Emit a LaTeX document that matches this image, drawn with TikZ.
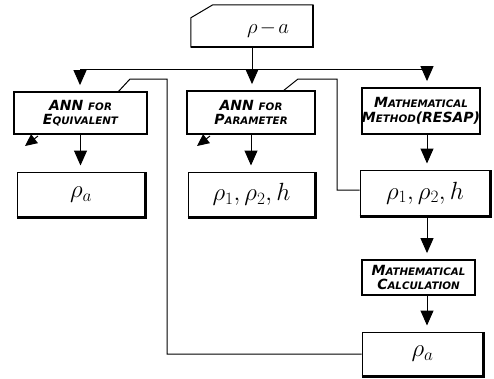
\documentclass[tikz,border=0pt]{standalone}
\usepackage{fontspec}
\usetikzlibrary{arrows.meta}
\newfontfamily\capfont{DejaVu Sans}
% heavy slanted face with hand-made small capitals
\newcommand\capsline{\capfont\bfseries\itshape\fontsize{14}{14.5}\selectfont}
\newcommand\smc[1]{{\fontsize{10.3}{14.5}\selectfont #1}}

\tikzset{
  box/.style={draw, line width=1pt, inner sep=0pt, align=center},
  procbox/.style={box, line width=1.8pt, font=\capsline},
  valbox/.style={box, font=\fontsize{24}{26}\selectfont},
  link/.style={line width=1pt},
  arr/.style={link, -{Triangle[length=15pt,width=13pt]}, shorten >=6pt},
  outarr/.style={link, -{Triangle[length=12pt,width=11pt]}},
}

\begin{document}
\begin{tikzpicture}[x=1pt, y=-1pt]
\useasboundingbox (0,0) rectangle (494,378);

% input block with clipped corner
\node[inner sep=0pt, minimum width=122pt, minimum height=42pt] (T) at (252,26) {};
\draw[line width=1pt] ([xshift=22pt]T.north west) -- (T.north east) -- (T.south east)
  -- (T.south west) -- ([yshift=-13pt]T.north west) -- cycle;
\draw[line width=2pt] (T.south west) -- (T.south east) -- (T.north east);
\node[font=\fontsize{22}{24}\selectfont] (Tl) at (268,29) {$\rho\mkern2mu{-}\mkern2mu a$};

% processing blocks
\node[procbox, minimum width=133pt, minimum height=42pt] (A1) at (80.5,113)
  {ANN \smc{FOR}\\E\smc{QUIVALENT}};
\node[procbox, minimum width=128pt, minimum height=43pt] (A2) at (251,112.5)
  {ANN \smc{FOR}\\P\smc{ARAMETER}};
\node[procbox, minimum width=116pt, minimum height=46pt] (M1) at (421,111)
  {M\smc{ATHEMATICAL}\\M\smc{ETHOD}(RESAP)};
\node[procbox, minimum width=113pt, minimum height=35pt] (C) at (418.5,277.5)
  {M\smc{ATHEMATICAL}\\C\smc{ALCULATION}};

% result blocks
\node[valbox, minimum width=128pt, minimum height=45pt] (R1) at (81,194.5) {$\rho_a$};
\node[valbox, minimum width=127pt, minimum height=45pt] (R2) at (251.5,194.5) {$\rho_1,\rho_2,h$};
\node[valbox, minimum width=130pt, minimum height=46pt] (R3) at (425,193) {$\rho_1,\rho_2,h$};
\node[valbox, minimum width=121pt, minimum height=44pt] (R4) at (422.5,354) {$\rho_a$};

% heavier lower and right edges on the result blocks
\foreach \n in {R1,R2,R3,R4}
  \draw[line width=2.2pt] (\n.south west) -- (\n.south east) -- (\n.north east);

% distribution of the input
\coordinate (jl) at (80,69);
\coordinate (jr) at (427,69);
\draw[link] (jl) -- (jr);
\draw[arr] (T.south) -- (T.south |- A2.north);
\draw[arr] (jl) -- (jl |- A1.north);
\draw[arr] (jr) -- (jr |- M1.north);

% downward flow
\draw[arr] (A1.south) -- (A1.south |- R1.north);
\draw[arr] (A2.south) -- (A2.south |- R2.north);
\draw[arr] (jr |- M1.south) -- (jr |- R3.north);
\draw[arr] (jr |- R3.south) -- (jr |- C.north);
\draw[arr] (jr |- C.south) -- (jr |- R4.north);

% training targets fed back into the networks
\coordinate (e1) at (118,92);
\coordinate (e2) at (130,79);
\draw[link] (R4.west) -| (167,79) -- (e2) -- (e1);
\coordinate (p1) at (283,91);
\coordinate (p2) at (298,79);
\draw[link] (R3.west |- 0,190) -| (337,79) -- (p2) -- (p1);

% outgoing tips below the network blocks
\coordinate (o1) at (38,136);
\coordinate (o2) at (210,136);
\draw[outarr] (o1) -- ++(-13,10);
\draw[outarr] (o2) -- ++(-13,10);
\end{tikzpicture}
\end{document}
